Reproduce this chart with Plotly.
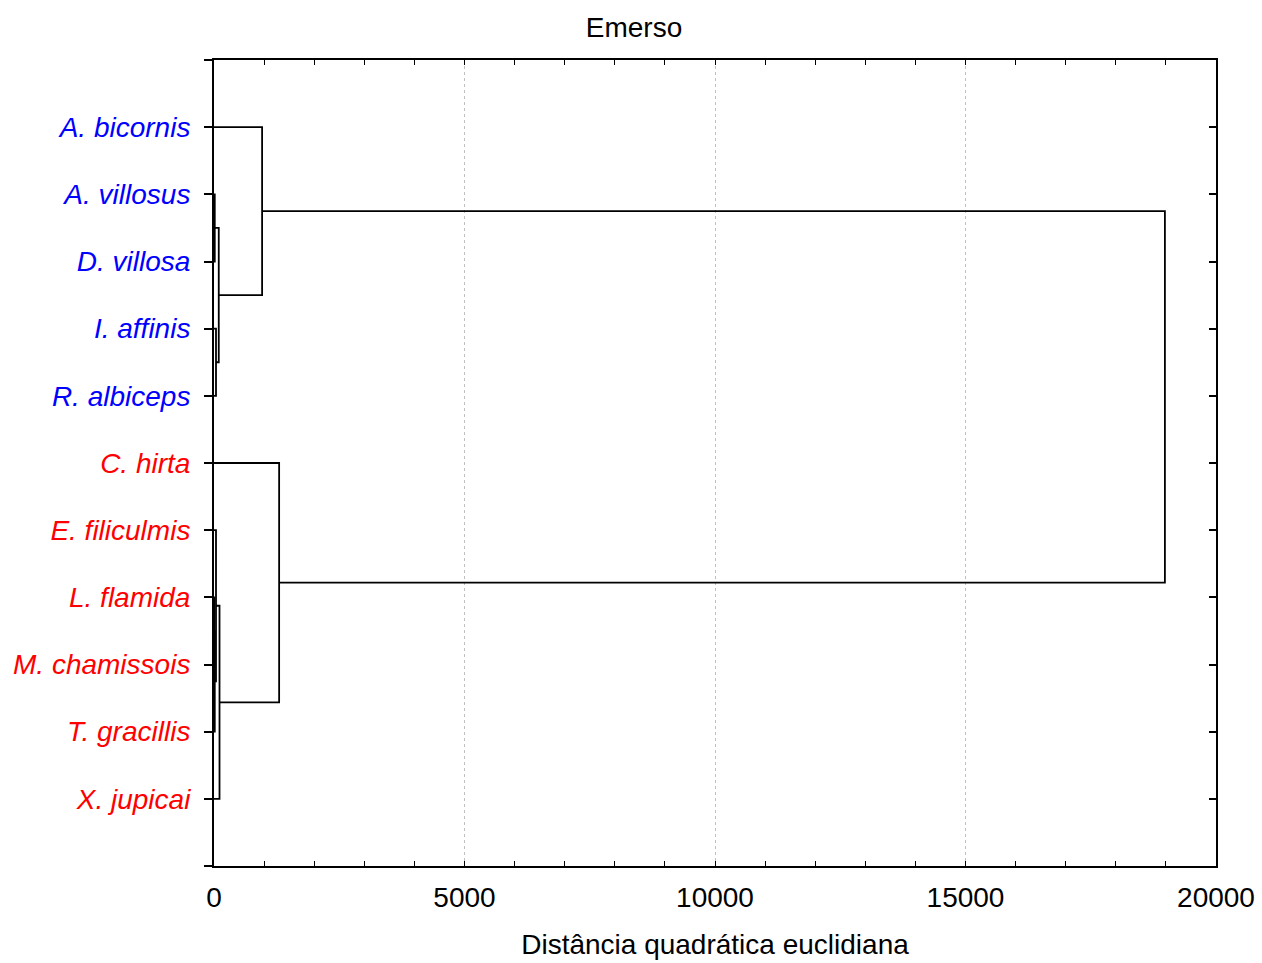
import plotly.graph_objects as go

# ---- data ----
labels = ["A. bicornis", "A. villosus", "D. villosa", "I. affinis", "R. albiceps",
          "C. hirta", "E. filiculmis", "L. flamida", "M. chamissois", "T. gracillis", "X. jupicai"]
label_colors = ["#0000ff"] * 5 + ["#ff0000"] * 6
# linkage: (left, right, height); leaves 0..10, new clusters numbered from 11
merge_left = [1, 3, 11, 0, 7, 15, 6, 17, 5, 14]
merge_right = [2, 4, 12, 13, 8, 9, 16, 10, 18, 19]
merge_height = [15, 40, 95, 960, 5, 15, 40, 110, 1300, 18980]
x_ticks = [0, 5000, 10000, 15000, 20000]

# ---- dendrogram path ----
n = len(labels)
ypos = {i: i + 1 for i in range(n)}
hpos = {i: 0 for i in range(n)}
xs, ys = [], []
for k, (a, b, h) in enumerate(zip(merge_left, merge_right, merge_height)):
    cid = n + k
    xs += [hpos[a], h, h, hpos[b], None]
    ys += [ypos[a], ypos[a], ypos[b], ypos[b], None]
    ypos[cid] = (ypos[a] + ypos[b]) / 2
    hpos[cid] = h

FONT = "Liberation Sans, Arial, sans-serif"
FS = 28
W, H = 1262, 963

fig = go.Figure()
fig.add_trace(go.Scatter(x=xs, y=ys, mode="lines", line=dict(color="black", width=1.8),
                         hoverinfo="skip", showlegend=False))
# invisible trace for right axis
fig.add_trace(go.Scatter(x=[None], y=[None], yaxis="y2", showlegend=False, hoverinfo="skip"))

tickvals = list(range(0, n + 2))
ticktext = [""] + [f"<span style='color:{c}'><i>{t}</i></span>" for t, c in zip(labels, label_colors)] + [""]

fig.update_layout(
    width=W, height=H,
    paper_bgcolor="white", plot_bgcolor="white",
    margin=dict(l=214, r=46, t=60, b=97, autoexpand=False),
    font=dict(family=FONT, size=FS, color="black"),
    title=dict(text="Emerso", x=0.5024, xref="container", xanchor="center",
               y=1 - 27 / H, yanchor="middle", yref="container",
               font=dict(family=FONT, size=FS, color="black")),
    xaxis=dict(range=[0, 20000], tickvals=x_ticks, ticktext=[str(v) for v in x_ticks],
               showline=True, linecolor="black", linewidth=2, mirror="allticks",
               ticks="inside", ticklen=5, tickwidth=1, tickcolor="black",
               minor=dict(dtick=1000, ticks="inside", ticklen=3, tickwidth=1, tickcolor="black", showgrid=False),
               showgrid=True, gridcolor="#c0c0c0", griddash="dot", gridwidth=1,
               zeroline=False, ticklabelstandoff=5, automargin=False,
               title=dict(text="Distância quadrática euclidiana", standoff=23,
                          font=dict(family=FONT, size=FS, color="black")),
               tickfont=dict(family=FONT, size=FS, color="black")),
    yaxis=dict(range=[12, 0], tickvals=tickvals, ticktext=ticktext,
               showline=True, linecolor="black", linewidth=2, mirror=True,
               ticks="outside", ticklen=8, tickwidth=1.5, tickcolor="black",
               showgrid=False, zeroline=False, ticklabelstandoff=8, automargin=False,
               tickfont=dict(family=FONT, size=FS)),
    yaxis2=dict(range=[12, 0], tickvals=tickvals, overlaying="y", side="right",
                ticks="inside", ticklen=7, tickwidth=1.5, tickcolor="black", automargin=False,
                showticklabels=False, showgrid=False, zeroline=False, showline=False),
)

fig.write_html("out.html", config={"displayModeBar": False},
               post_script="document.body.style.margin='0';")
